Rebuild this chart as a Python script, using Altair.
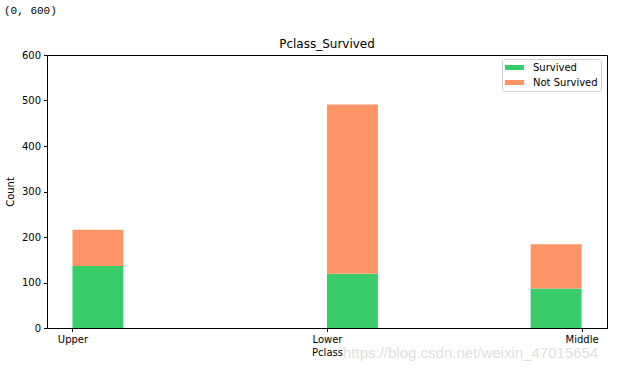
import altair as alt
import pandas as pd

classes = ["Upper", "Lower", "Middle"]
class_pos = [0, 1, 2]
survived = [136, 119, 87]
not_survived = [80, 372, 97]
series_names = ["Survived", "Not Survived"]
series_colors = ["#39cc6b", "#ff9566"]
y_ticks = [0, 100, 200, 300, 400, 500, 600]

# histogram bins (10 bins over the category positions 0..2)
n_bins = 10
lo, hi = min(class_pos), max(class_pos)
bw = (hi - lo) / n_bins

rows = []
for c, p, s, ns in zip(classes, class_pos, survived, not_survived):
    idx = min(int((p - lo) / bw + 1e-9), n_bins - 1)
    start = lo + idx * bw
    base = 0
    for k, (name, val) in enumerate(zip(series_names, [s, ns])):
        rows.append({"Pclass": c, "start": start, "end": start + bw,
                     "series": name, "y0": base, "y1": base + val, "order": k})
        base += val
df = pd.DataFrame(rows)

font = "DejaVu Sans"
label_expr = "[" + ",".join(f"'{c}'" for c in classes) + "][datum.value]"

bars = alt.Chart(df).mark_bar(opacity=1, strokeWidth=0).encode(
    x=alt.X("start:Q", scale=alt.Scale(domain=[-0.1, 2.1], nice=False, zero=False),
            axis=alt.Axis(values=class_pos, labelExpr=label_expr, title="Pclass",
                          grid=False, domainColor="#000", tickColor="#000",
                          tickSize=3.5, labelPadding=3, titlePadding=3,
                          labelFont=font, titleFont=font, labelFontSize=10,
                          titleFontSize=10, labelColor="#000", titleColor="#000",
                          titleFontWeight="normal", labelAngle=0)),
    x2="end:Q",
    y=alt.Y("y0:Q",
            scale=alt.Scale(domain=[0, 600], nice=False, padding=0),
            axis=alt.Axis(values=y_ticks, title="Count", grid=False,
                          domainColor="#000", tickColor="#000", tickSize=3.5,
                          labelPadding=3, titlePadding=6,
                          labelFont=font, titleFont=font, labelFontSize=10,
                          titleFontSize=10, labelColor="#000", titleColor="#000",
                          titleFontWeight="normal")),
    y2="y1:Q",
    color=alt.Color("series:N",
                    scale=alt.Scale(domain=series_names, range=series_colors),
                    legend=alt.Legend(title=None, orient="none", legendX=455, legendY=4,
                                      symbolType="M-1.75,-0.45L1.75,-0.45L1.75,0.45L-1.75,0.45Z",
                                      symbolSize=121, symbolStrokeWidth=0,
                                      labelFont=font, labelFontSize=10, labelColor="#000",
                                      strokeColor="#d0d0d0", fillColor="white",
                                      padding=3, cornerRadius=2, rowPadding=4,
                                      symbolOffset=4, labelOffset=13)),
)

note = alt.Chart(pd.DataFrame({"t": ["(0, 600)"]})).mark_text(
    align="left", baseline="middle", font="Liberation Mono", fontSize=11, color="#000"
).encode(text="t:N", x=alt.value(-43), y=alt.value(-44))

title = alt.Chart(pd.DataFrame({"t": ["Pclass_Survived"]})).mark_text(
    align="center", baseline="middle", font=font, fontSize=12, color="#000"
).encode(text="t:N", x=alt.value(280), y=alt.value(-11))

watermark = alt.Chart(pd.DataFrame({"t": ["https://blog.csdn.net/weixin_47015654"]})).mark_text(
    align="left", baseline="middle", font="Liberation Sans", fontSize=15, color="#e0e0e0"
).encode(text="t:N", x=alt.value(296), y=alt.value(298))

chart = alt.layer(bars, note, title, watermark).properties(
    width=560, height=273,
    background="white",
    autosize=alt.AutoSizeParams(type="none"),
    padding={"left": 47, "top": 55, "right": 16, "bottom": 42},
).configure_view(stroke="#000", strokeWidth=1)

chart.save("out.html", embed_options={"renderer": "svg", "actions": False})
